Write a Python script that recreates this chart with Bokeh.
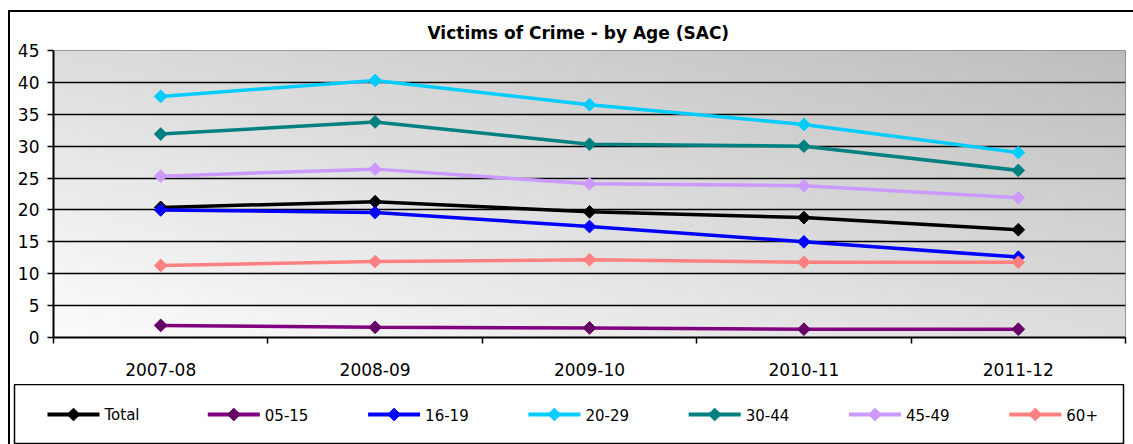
import numpy as np
from bokeh.plotting import figure
from bokeh.layouts import column
from bokeh.models import Range1d, FixedTicker
from bokeh.core.properties import value
from bokeh.embed import file_html
from bokeh.resources import INLINE

categories = ["2007-08", "2008-09", "2009-10", "2010-11", "2011-12"]
series_names = ["Total", "05-15", "16-19", "20-29", "30-44", "45-49", "60+"]
total = [20.4, 21.3, 19.7, 18.8, 16.9]
age_05_15 = [1.9, 1.6, 1.5, 1.3, 1.3]
age_16_19 = [20.0, 19.6, 17.4, 15.0, 12.6]
age_20_29 = [37.8, 40.3, 36.5, 33.4, 29.0]
age_30_44 = [31.9, 33.8, 30.3, 30.0, 26.2]
age_45_49 = [25.3, 26.4, 24.1, 23.8, 21.9]
age_60p = [11.3, 11.9, 12.2, 11.8, 11.8]
y_ticks = [0, 5, 10, 15, 20, 25, 30, 35, 40, 45]
grid_ticks = [5, 10, 15, 20, 25, 30, 35, 40]

series_values = [total, age_05_15, age_16_19, age_20_29, age_30_44, age_45_49, age_60p]
line_colors = ["#000000", "#800080", "#0000FF", "#00CCFF", "#008080", "#CC99FF", "#FF8080"]
marker_colors = ["#000000", "#660066", "#0000FF", "#00CCFF", "#008080", "#CC99FF", "#FF8080"]

FONT = "DejaVu Sans"

xs = [i + 0.5 for i in range(len(categories))]

p = figure(width=1123, height=372, output_backend="svg", toolbar_location=None,
           x_range=Range1d(0, len(categories)), y_range=Range1d(0, 45),
           min_border_left=43, min_border_right=8, min_border_top=37, min_border_bottom=47)
p.frame_align = False

# gradient background of the plot area
ny, nx = 60, 200
u = np.linspace(0, 1, nx)[None, :]
v = np.linspace(0, 1, ny)[:, None]
t = (u + v) / 2.0
g = (252 - 62 * t).astype(np.uint8)
img = np.empty((ny, nx), dtype=np.uint32)
view = img.view(dtype=np.uint8).reshape((ny, nx, 4))
view[:, :, 0] = g
view[:, :, 1] = g
view[:, :, 2] = g
view[:, :, 3] = 255
p.image_rgba(image=[img], x=0, y=0, dw=len(categories), dh=45, level="image")

p.background_fill_color = "white"
p.border_fill_color = "white"
p.outline_line_color = "#808080"
p.outline_line_width = 1

# title
p.title.text = "Victims of Crime - by Age (SAC)"
p.title.text_font = FONT
p.title.text_font_size = "17px"
p.title.text_font_style = "bold"
p.title.text_color = "black"
p.title.align = "left"
p.title.offset = 374
p.title.standoff = 16

# grid
p.xgrid.visible = False
p.ygrid.ticker = FixedTicker(ticks=grid_ticks)
p.ygrid.grid_line_color = "black"
p.ygrid.grid_line_width = 1.5

# x axis
p.xaxis.ticker = FixedTicker(ticks=xs, minor_ticks=[0, 1, 2, 3, 4, 5])
p.xaxis.major_label_overrides = {x: c for x, c in zip(xs, categories)}
p.xaxis.major_tick_line_color = None
p.xaxis.major_tick_out = 0
p.xaxis.major_tick_in = 0
p.xaxis.minor_tick_line_color = "black"
p.xaxis.minor_tick_line_width = 1.5
p.xaxis.minor_tick_out = 6
p.xaxis.minor_tick_in = 0
p.xaxis.axis_line_color = "black"
p.xaxis.axis_line_width = 2
p.xaxis.major_label_text_font = FONT
p.xaxis.major_label_text_font_size = "17px"
p.xaxis.major_label_text_color = "black"
p.xaxis.major_label_standoff = 19

# y axis
p.yaxis.ticker = FixedTicker(ticks=y_ticks)
p.yaxis.minor_tick_line_color = None
p.yaxis.major_tick_out = 6
p.yaxis.major_tick_in = 0
p.yaxis.major_tick_line_color = "black"
p.yaxis.major_tick_line_width = 1.5
p.yaxis.axis_line_color = "black"
p.yaxis.axis_line_width = 2
p.yaxis.major_label_text_font = FONT
p.yaxis.major_label_text_font_size = "17px"
p.yaxis.major_label_text_color = "black"
p.yaxis.major_label_standoff = 8

for vals, lc, mc in zip(series_values, line_colors, marker_colors):
    p.line(xs, vals, line_color=lc, line_width=3.5)
    p.scatter(xs, vals, marker="square", angle=np.pi / 4, size=9,
              fill_color=mc, line_color=mc)

# legend strip (separate box under the chart)
LEG_W, LEG_H = 1109, 60
leg = figure(width=1123, height=LEG_H, output_backend="svg", toolbar_location=None,
             x_range=Range1d(0, LEG_W), y_range=Range1d(0, LEG_H),
             min_border_left=4, min_border_right=10, min_border_top=0, min_border_bottom=0)
leg.frame_align = False
leg.axis.visible = False
leg.grid.visible = False
leg.background_fill_color = "white"
leg.border_fill_color = "white"
leg.outline_line_color = "black"
leg.outline_line_width = 1.5

step = 160.3
x0s = [33 + step * i for i in range(len(series_names))]
yc = LEG_H / 2
for x0, name, lc, mc in zip(x0s, series_names, line_colors, marker_colors):
    leg.line([x0, x0 + 52], [yc, yc], line_color=lc, line_width=4)
    leg.scatter([x0 + 26], [yc], marker="square", angle=np.pi / 4, size=9,
                fill_color=mc, line_color=mc)
    leg.text([x0 + 57], [yc], text=[name], text_font=value(FONT), text_font_size="15px",
             text_color="black", text_baseline="middle", text_align="left")

layout = column(p, leg, spacing=0)
layout.styles = {"margin-left": "8px", "margin-top": "10px",
                 "border-top": "2px solid black", "border-left": "2px solid black"}

open("out.html", "w").write(file_html(layout, INLINE))
